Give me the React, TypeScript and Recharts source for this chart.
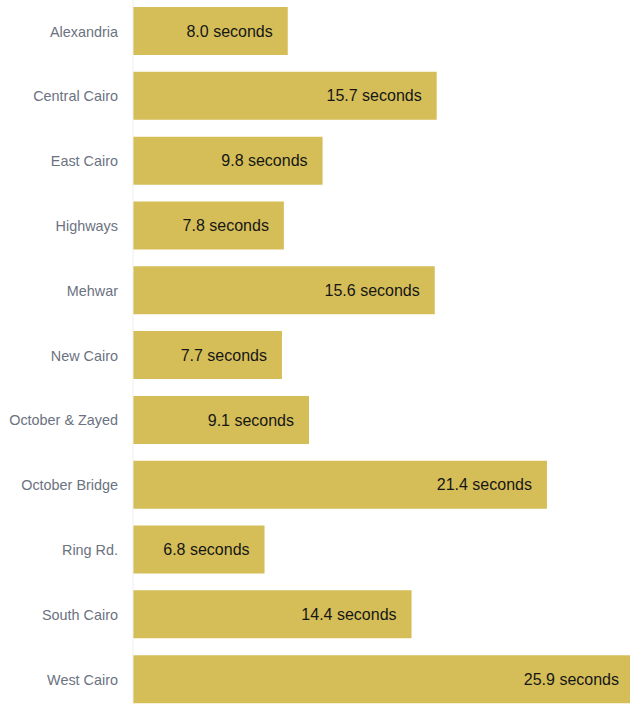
import React from 'react';
import { BarChart, Bar, XAxis, YAxis, LabelList } from 'recharts';

const regions = [
  'Alexandria',
  'Central Cairo',
  'East Cairo',
  'Highways',
  'Mehwar',
  'New Cairo',
  'October & Zayed',
  'October Bridge',
  'Ring Rd.',
  'South Cairo',
  'West Cairo',
];

const seconds = [8.0, 15.7, 9.8, 7.8, 15.6, 7.7, 9.1, 21.4, 6.8, 14.4, 25.9];

const data = regions.map((region, i) => ({ region, value: seconds[i] }));

const App: React.FC = () => {
  return (
    <div style={{ position: 'absolute', left: 0, top: -1, width: 630, height: 705, overflow: 'hidden' }}>
      <BarChart
        width={634}
        height={713}
        data={data}
        layout="vertical"
        margin={{ top: 0, right: 0, bottom: 0, left: 0 }}
        barCategoryGap={0}
      >
        <XAxis type="number" domain={[0, 25.9]} hide />
        <YAxis
          type="category"
          dataKey="region"
          width={133}
          tickLine={false}
          tickSize={0}
          tickMargin={15}
          axisLine={{ stroke: '#eceef1' }}
          tick={{ fill: '#6b7280', fontSize: 14.4, fontFamily: 'Liberation Sans, Arial, sans-serif' }}
          interval={0}
        />
        <Bar dataKey="value" fill="#d5be58" barSize={48} isAnimationActive={false}>
          <LabelList
            dataKey="value"
            position="insideRight"
            offset={15}
            formatter={(v: number) => `${v.toFixed(1)} seconds`}
            style={{ fill: '#161616', fontSize: 16, fontFamily: 'Liberation Sans, Arial, sans-serif' }}
          />
        </Bar>
      </BarChart>
    </div>
  );
};

export default App;
